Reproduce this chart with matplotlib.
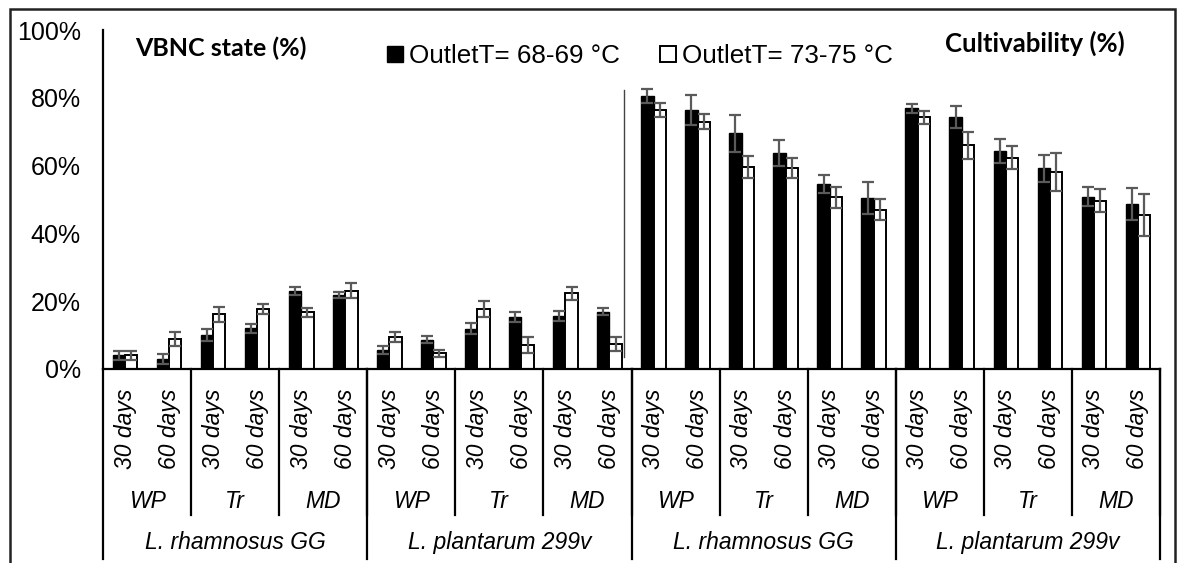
import numpy as np
import matplotlib
matplotlib.use('Agg')
import matplotlib.pyplot as plt
from matplotlib.patches import Patch, Rectangle
from matplotlib.ticker import FuncFormatter

plt.rcParams['font.family'] = ['Liberation Sans', 'DejaVu Sans']

species = ['L. rhamnosus GG', 'L. plantarum 299v']
methods = ['WP', 'Tr', 'MD']
days = ['30 days', '60 days']
legend_labels = ['OutletT= 68-69 °C', 'OutletT= 73-75 °C']

# VBNC state (%), 12 categories: species x method x days
vbnc_68 = [4.1, 3.0, 10.0, 12.0, 23.0, 21.8, 5.6, 8.7, 11.9, 15.4, 15.7, 16.9]
vbnc_68_err = [1.3, 1.4, 1.7, 1.4, 1.3, 0.8, 1.3, 1.0, 1.7, 1.4, 1.5, 1.0]
vbnc_73 = [4.0, 8.8, 16.1, 17.6, 16.7, 23.1, 9.5, 4.6, 17.7, 7.1, 22.3, 7.4]
vbnc_73_err = [1.3, 2.0, 2.3, 1.5, 1.3, 2.2, 1.4, 1.0, 2.4, 2.4, 2.0, 2.1]
# Cultivability (%)
cult_68 = [80.5, 76.5, 69.5, 63.8, 54.5, 50.4, 76.9, 74.4, 64.2, 59.2, 50.8, 48.7]
cult_68_err = [2.0, 4.4, 5.4, 3.8, 2.6, 4.7, 1.3, 3.2, 3.5, 4.0, 2.8, 4.6]
cult_73 = [76.4, 73.0, 59.5, 59.2, 50.6, 47.0, 74.2, 66.0, 62.3, 58.0, 49.6, 45.5]
cult_73_err = [2.0, 2.3, 3.3, 3.0, 3.2, 3.1, 2.0, 4.0, 3.4, 5.6, 3.4, 6.2]

y68 = np.array(vbnc_68 + cult_68)
e68 = np.array(vbnc_68_err + cult_68_err)
y73 = np.array(vbnc_73 + cult_73)
e73 = np.array(vbnc_73_err + cult_73_err)
x = np.arange(len(y68))

W, H = 1183, 563
fig = plt.figure(figsize=(W / 100, H / 100), dpi=100)
ax = fig.add_axes([103 / W, (H - 369) / H, (1160 - 103) / W, 339 / H])

bw = 0.28
ekw = dict(ecolor='#5a5a5a', elinewidth=1.6, capsize=4.5, capthick=1.6)
ax.bar(x - bw / 2, y68, bw, color='black', edgecolor='black', linewidth=1.0,
       yerr=e68, error_kw=ekw, zorder=2)
ax.bar(x + bw / 2, y73, bw, color='white', edgecolor='black', linewidth=1.4,
       yerr=e73, error_kw=ekw, zorder=2)

ax.set_xlim(-0.5, len(x) - 0.5)
ax.set_ylim(0, 100)
ax.set_yticks(np.arange(0, 101, 20))
ax.yaxis.set_major_formatter(FuncFormatter(lambda v, p: '%d%%' % v))
ax.tick_params(axis='y', length=0, pad=16, labelsize=18)
ax.set_xticks([])
for s in ['top', 'right']:
    ax.spines[s].set_visible(False)
ax.spines['left'].set_linewidth(1.6)
ax.spines['bottom'].set_linewidth(1.6)
ax.spines['left'].set_bounds(0, 100)

# multi-level category axis
tr = ax.get_xaxis_transform()
ax.plot([-0.5, -0.5], [0, -0.56], color='black', lw=1.6, transform=tr, clip_on=False)
labels = [(sp, m, d) for blk in range(2) for sp in species for m in methods for d in days]
for i, (sp, m, d) in enumerate(labels):
    ax.text(i, -0.175, d, rotation=90, ha='center', va='center', style='italic',
            fontsize=16.5, transform=tr)
for g in range(len(x) // 2):
    ax.text(2 * g + 0.5, -0.392, methods[g % 3], ha='center', va='center',
            style='italic', fontsize=16.5, transform=tr)
    ax.plot([2 * g + 1.5] * 2, [0, -0.43], color='black', lw=1.6, transform=tr,
            clip_on=False)
for k in range(len(x) // 6):
    ax.text(6 * k + 2.5, -0.513, species[k % 2], ha='center', va='center',
            style='italic', fontsize=16.5, transform=tr)
    ax.plot([6 * k + 5.5] * 2, [0, -0.56], color='black', lw=1.6, transform=tr,
            clip_on=False)

# divider between the two panels
ax.plot([11.34, 11.34], [3.5, 82.3], color='#444444', lw=1.0, zorder=3)

# titles
fig.text(135 / W, 1 - 48 / H, 'VBNC state (%)', family='Lato', weight='bold',
         fontsize=18, ha='left', va='center')
fig.text(945 / W, 1 - 43 / H, 'Cultivability (%)', family='Lato', weight='bold',
         fontsize=18.5, ha='left', va='center')

handles = [Patch(facecolor='black', edgecolor='black'),
           Patch(facecolor='white', edgecolor='black', linewidth=1.4)]
fig.legend(handles, legend_labels, ncol=2, loc='center left',
           bbox_to_anchor=(387 / W, 1 - 56 / H), frameon=False, fontsize=18.7,
           handlelength=0.6, handleheight=0.6, handletextpad=0.25,
           columnspacing=1.55, borderpad=0, borderaxespad=0)

# outer frame
fig.patches.append(Rectangle((10 / W, -0.05), (1175 - 10) / W, 1.05 - 9 / H,
                             transform=fig.transFigure, fill=False,
                             edgecolor='#222222', lw=1.8))

fig.savefig('out.png', dpi=100)
